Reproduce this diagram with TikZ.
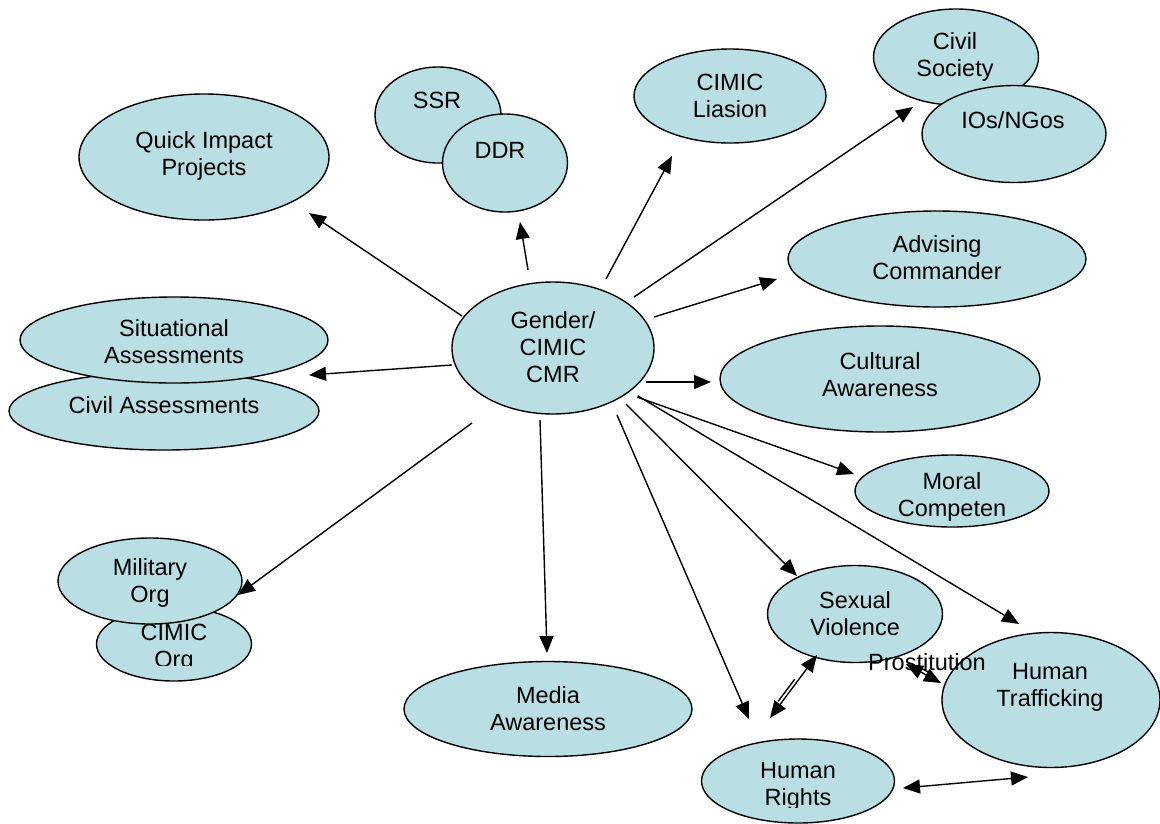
\documentclass[tikz,border=0pt]{standalone}
\usepackage{fontspec}
\setmainfont{Liberation Sans}
\usetikzlibrary{shapes.geometric,arrows.meta,calc}
\definecolor{ellfill}{RGB}{185,222,227}
\tikzset{
  ell/.style={ellipse,draw=black,line width=1.4pt,fill=ellfill,inner sep=0pt},
  txt/.style={align=center,font=\fontsize{23.5}{27}\selectfont,inner sep=0pt},
  arr/.style={line width=1.4pt,-{Triangle[length=17pt,width=14pt]}},
  darr/.style={line width=1.4pt,{Triangle[length=17pt,width=14pt]}-{Triangle[length=17pt,width=14pt]}},
  pl/.style={line width=1.4pt}
}
\begin{document}
\begin{tikzpicture}[x=1pt,y=-1pt]
\useasboundingbox (0,0) rectangle (1160,823);
\clip (0,0) rectangle (1160,823);
\fill[white] (0,0) rectangle (1160,823);
% ellipses
\node[ell,minimum width=250pt,minimum height=126pt] (qip) at (204,157) {};
\node[txt] at (204,156) {Quick Impact\\Projects};
\node[ell,minimum width=126pt,minimum height=96pt] (ssr) at (438,115) {};
\node[txt] at (437,100) {SSR};
\node[ell,minimum width=125pt,minimum height=98pt] (ddr) at (505,163) {};
\node[txt] at (500,150) {DDR};
\node[ell,minimum width=192pt,minimum height=94pt] (lia) at (730,96) {};
\node[txt] at (730,96) {CIMIC\\Liasion};
\node[ell,minimum width=165pt,minimum height=96pt] (cs) at (956,57) {};
\node[txt] at (955,57) {Civil\\Society};
\node[ell,minimum width=184pt,minimum height=97pt] (ngo) at (1014,134) {};
\node[txt] at (1013,120) {IOs/NGos};
\node[ell,minimum width=298pt,minimum height=96pt] (adv) at (937,259) {};
\node[txt] at (937,258) {Advising\\Commander};
\node[ell,minimum width=310pt,minimum height=78pt] (ca) at (164,411) {};
\node[txt] at (164,405) {Civil Assessments};
\node[ell,minimum width=308pt,minimum height=86pt] (sa) at (174,340) {};
\node[txt] at (174,342) {Situational\\Assessments};
\node[ell,minimum width=202pt,minimum height=132pt] (g) at (553,348) {};
\node[txt] at (553,347) {Gender/\\CIMIC\\CMR};
\node[ell,minimum width=320pt,minimum height=106pt] (cul) at (880,379) {};
\node[txt] at (880,375) {Cultural\\Awareness};
\node[ell,minimum width=194pt,minimum height=72pt] (mor) at (952,491) {};
\begin{scope}
\clip (850,450) rectangle (1060,520);
\node[txt] at (952,497) {Moral\\Competen};
\end{scope}
\node[ell,minimum width=155pt,minimum height=74pt] (co) at (174,644) {};
\begin{scope}
\clip (90,600) rectangle (260,665);
\node[txt] at (174,648) {CIMIC\\Org};
\end{scope}
\node[ell,minimum width=184pt,minimum height=86pt] (mo) at (150,581) {};
\begin{scope}
\clip (50,530) rectangle (250,607);
\node[txt] at (150,583) {Military\\Org};
\end{scope}
\node[ell,minimum width=288pt,minimum height=95pt] (med) at (548,709) {};
\node[txt] at (548,709) {Media\\Awareness};
\node[ell,minimum width=175pt,minimum height=97pt] (sv) at (855,614) {};
\node[txt] at (855,614) {Sexual\\Violence};
\node[ell,minimum width=218pt,minimum height=135pt] (ht) at (1051,700) {};
\node[txt] at (1050,687) {Human\\Trafficking};
\node[ell,minimum width=193pt,minimum height=84pt] (hr) at (798,781) {};
\begin{scope}
\clip (700,740) rectangle (900,807);
\node[txt] at (798,786) {Human\\Rights};
\end{scope}
\node[txt] (pro) at (927,662) {Prostitution};
% connector end points
\coordinate (s1) at (462,316); \coordinate (e1) at (309,213);
\coordinate (s2) at (528,270); \coordinate (e2) at (520,222);
\coordinate (s3) at (606,279); \coordinate (e3) at (672,156);
\coordinate (s4) at (634,297); \coordinate (e4) at (913,107);
\coordinate (s5) at (654,317); \coordinate (e5) at (777,279);
\coordinate (s6) at (452,365); \coordinate (e6) at (309,375);
\coordinate (s7) at (646,382); \coordinate (e7) at (711,382);
\coordinate (s8) at (637,397); \coordinate (e8) at (854,474);
\coordinate (s9) at (472,423); \coordinate (e9) at (238,595);
\coordinate (s10) at (540,420); \coordinate (e10) at (547,653);
\coordinate (s11) at (617,415); \coordinate (e11) at (749,719);
\coordinate (s12) at (626,404); \coordinate (e12) at (797,576);
\coordinate (s13) at (638,396); \coordinate (e13) at (1019,624);
\coordinate (a1) at (770,718); \coordinate (a2) at (817,655);
\coordinate (b1) at (906,664); \coordinate (b2) at (941,683);
\coordinate (c1) at (903,788); \coordinate (c2) at (1028,777);
\draw[arr] (s1) -- (e1);
\draw[arr] (s2) -- (e2);
\draw[arr] (s3) -- (e3);
\draw[arr] (s4) -- (e4);
\draw[arr] (s5) -- (e5);
\draw[arr] (s6) -- (e6);
\draw[arr] (s7) -- (e7);
\draw[arr] (s8) -- (e8);
\draw[arr] (s9) -- (e9);
\draw[arr] (s10) -- (e10);
\draw[arr] (s11) -- (e11);
\draw[arr] (s12) -- (e12);
\draw[arr] (s13) -- (e13);
\draw[darr] (a1) -- (a2);
\draw[pl] ($(a1)!0.25!(a2)+(-3.5,-1)$) -- ($(a1)!0.6!(a2)+(-3.5,-1)$);
\draw[darr] (b1) -- (b2);
\draw[pl] ($(b1)!0.3!(b2)+(1,-3.5)$) -- ($(b1)!0.7!(b2)+(1,-3.5)$);
\draw[darr] (c1) -- (c2);
\end{tikzpicture}
\end{document}
